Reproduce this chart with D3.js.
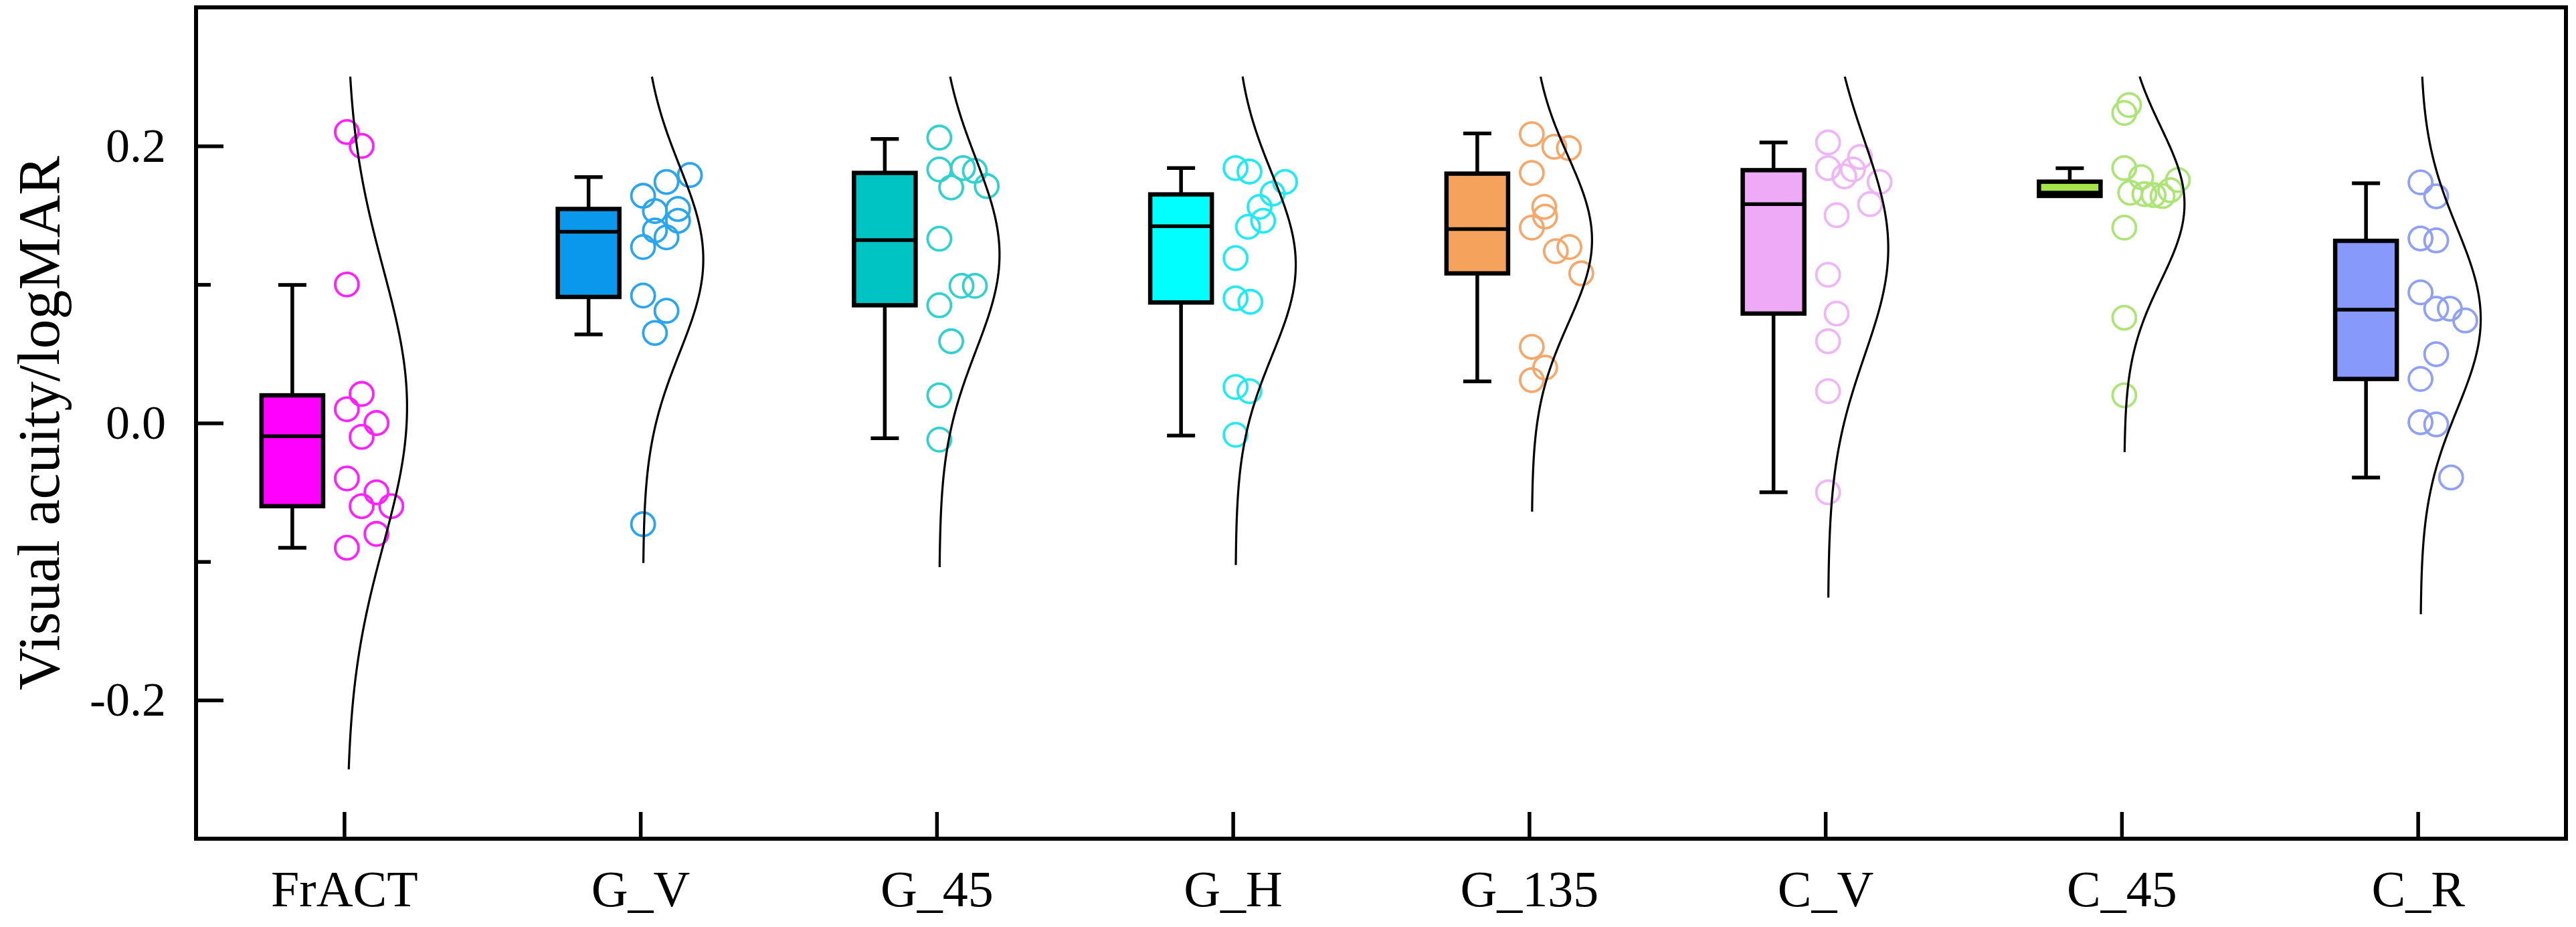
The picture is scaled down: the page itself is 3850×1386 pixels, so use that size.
<!DOCTYPE html>
<html>
<head>
<meta charset="utf-8">
<script src="https://cdn.jsdelivr.net/npm/d3@7"></script>
<style>
    body { margin: 0; background: #ffffff; }
    svg { display: block; }
</style>
</head>
<body>
<div id="chart"></div>
<script>
const width = 3850;
const height = 1386;

// categories on the x axis
const categories = ["FrACT", "G_V", "G_45", "G_H", "G_135", "C_V", "C_45", "C_R"];

// individual points (logMAR) and their horizontal jitter (in category units)
const fractValues = [0.21, 0.20, 0.10, 0.021, 0.01, 0.0, -0.01, -0.04, -0.05, -0.06, -0.06, -0.08, -0.09];
const fractJitter = [0, 0.05, 0, 0.05, 0, 0.10, 0.05, 0, 0.10, 0.05, 0.15, 0.10, 0];

const gvValues = [0.179, 0.174, 0.164, 0.1545, 0.153, 0.146, 0.139, 0.134, 0.127, 0.092, 0.081, 0.065, -0.073];
const gvJitter = [0.158, 0.079, 0, 0.118, 0.04, 0.118, 0.04, 0.079, 0, 0, 0.079, 0.04, 0];

const g45Values = [0.206, 0.183, 0.184, 0.170, 0.182, 0.171, 0.133, 0.099, 0.099, 0.085, 0.059, 0.020, -0.012];
const g45Jitter = [0, 0, 0.08, 0.04, 0.12, 0.16, 0, 0.075, 0.12, 0, 0.04, 0, 0];

const ghValues = [0.184, 0.1815, 0.174, 0.1656, 0.156, 0.146, 0.1416, 0.119, 0.090, 0.0875, 0.026, 0.023, -0.0085];
const ghJitter = [0, 0.047, 0.167, 0.125, 0.081, 0.093, 0.042, 0, 0, 0.05, 0, 0.047, 0];

const g135Values = [0.2085, 0.1994, 0.1984, 0.1805, 0.156, 0.149, 0.141, 0.124, 0.127, 0.108, 0.055, 0.040, 0.031];
const g135Jitter = [0, 0.076, 0.125, 0, 0.042, 0.045, 0, 0.081, 0.127, 0.167, 0, 0.045, 0];

const cvValues = [0.2025, 0.184, 0.192, 0.183, 0.178, 0.174, 0.158, 0.150, 0.107, 0.079, 0.059, 0.023, -0.050];
const cvJitter = [0, 0, 0.108, 0.084, 0.055, 0.174, 0.142, 0.029, 0, 0.029, 0, 0, 0];

const c45Values = [0.2295, 0.2238, 0.184, 0.1775, 0.1754, 0.1662, 0.1652, 0.1645, 0.1638, 0.168, 0.141, 0.076, 0.020];
const c45Jitter = [0.016, 0, 0, 0.057, 0.181, 0.02, 0.068, 0.099, 0.129, 0.155, 0, 0, 0];

const crValues = [0.1737, 0.1636, 0.1332, 0.1318, 0.0943, 0.0825, 0.0825, 0.074, 0.0497, 0.0318, 0.0006, -0.001, -0.0393];
const crJitter = [0, 0.053, 0, 0.053, 0, 0.053, 0.099, 0.151, 0.053, 0, 0, 0.053, 0.103];

const pointValues = [fractValues, gvValues, g45Values, ghValues, g135Values, cvValues, c45Values, crValues];
const pointJitter = [fractJitter, gvJitter, g45Jitter, ghJitter, g135Jitter, cvJitter, c45Jitter, crJitter];

// box statistics per category
const whiskerLow = [-0.09, 0.064, -0.011, -0.009, 0.030, -0.050, 0.1639, -0.0393];
const q1 = [-0.060, 0.091, 0.085, 0.087, 0.108, 0.079, 0.1639, 0.0318];
const median = [-0.0095, 0.138, 0.132, 0.142, 0.140, 0.158, 0.1663, 0.0818];
const q3 = [0.020, 0.1545, 0.1805, 0.165, 0.180, 0.1825, 0.1742, 0.1315];
const whiskerHigh = [0.0997, 0.1775, 0.205, 0.184, 0.209, 0.2025, 0.1839, 0.1731];

// extent of the normal curve per category
const curveLow = [-0.25, -0.101, -0.104, -0.1025, -0.064, -0.126, -0.021, -0.138];
const curveHigh = [0.25, 0.25, 0.25, 0.25, 0.25, 0.25, 0.25, 0.25];

// y axis ticks
const yTicks = [-0.2, 0.0, 0.2];
const yMinorTicks = [-0.1, 0.1];

// colours
const boxColors = ["#ff00ff", "#0a98ec", "#00c4c4", "#00ffff", "#f5a25d", "#eeaaf7", "#a6e34a", "#8799fa"];
const pointColors = ["#ff22ff", "#2aa5ee", "#33d0d0", "#22eaf2", "#f4a86c", "#eeb6f6", "#ade476", "#8fa0f5"];

const fontFamily = "'Liberation Serif', 'Times New Roman', serif";

const frame = { left: 293, right: 3835, top: 11, bottom: 1254 };

const svg = d3
    .select("#chart")
    .append("svg")
    .attr("width", width)
    .attr("height", height)
    .attr("viewBox", `0 0 ${width} ${height}`);

svg.append("rect")
    .attr("width", width)
    .attr("height", height)
    .attr("fill", "#ffffff");

const x = d3
    .scalePoint()
    .domain(categories)
    .range([frame.left, frame.right])
    .padding(0.5);

const y = d3
    .scaleLinear()
    .domain([-0.3, 0.3])
    .range([frame.bottom, frame.top]);

const step = x.step();
const boxOffset = -0.175 * step;
const boxWidth = 0.208 * step;
const capWidth = 42;
const pointOffset = 4;
const curveAmplitude = 90;

const groups = categories.map(function (name, i) {
    return {
        name: name,
        index: i,
        values: pointValues[i],
        jitter: pointJitter[i],
        lo: whiskerLow[i],
        q1: q1[i],
        median: median[i],
        q3: q3[i],
        hi: whiskerHigh[i]
    };
});

// boxes and whiskers
const boxG = svg.append("g").attr("class", "boxes");

groups.forEach(function (g) {
    const cx = x(g.name) + boxOffset;
    const gEl = boxG.append("g");

    gEl.append("line")
        .attr("x1", cx).attr("x2", cx)
        .attr("y1", y(g.q3)).attr("y2", y(g.hi))
        .attr("stroke", "#000").attr("stroke-width", 5.5);
    gEl.append("line")
        .attr("x1", cx).attr("x2", cx)
        .attr("y1", y(g.q1)).attr("y2", y(g.lo))
        .attr("stroke", "#000").attr("stroke-width", 5.5);

    [g.lo, g.hi].forEach(function (v) {
        gEl.append("line")
            .attr("x1", cx - capWidth / 2).attr("x2", cx + capWidth / 2)
            .attr("y1", y(v)).attr("y2", y(v))
            .attr("stroke", "#000").attr("stroke-width", 5.5);
    });

    gEl.append("rect")
        .attr("x", cx - boxWidth / 2)
        .attr("y", y(g.q3))
        .attr("width", boxWidth)
        .attr("height", y(g.q1) - y(g.q3))
        .attr("fill", boxColors[g.index])
        .attr("stroke", "#000")
        .attr("stroke-width", 6.5);

    gEl.append("line")
        .attr("x1", cx - boxWidth / 2).attr("x2", cx + boxWidth / 2)
        .attr("y1", y(g.median)).attr("y2", y(g.median))
        .attr("stroke", "#000").attr("stroke-width", 5.5);
});

// individual points
const pointG = svg.append("g").attr("class", "points");

groups.forEach(function (g) {
    pointG.selectAll(null)
        .data(g.values)
        .enter()
        .append("circle")
        .attr("cx", function (d, j) {
            return x(g.name) + pointOffset + g.jitter[j] * step;
        })
        .attr("cy", function (d) { return y(d); })
        .attr("r", 17.5)
        .attr("fill", "none")
        .attr("stroke", pointColors[g.index])
        .attr("stroke-width", 3.8);
});

// normal curves from each group's mean and standard deviation
const curveG = svg.append("g").attr("class", "curves");

groups.forEach(function (g) {
    const mean = d3.mean(g.values);
    const sd = d3.deviation(g.values);
    const base = x(g.name) + pointOffset;
    const lo = curveLow[g.index];
    const hi = curveHigh[g.index];
    const n = 120;

    const samples = d3.range(n + 1).map(function (k) {
        return lo + (hi - lo) * k / n;
    });

    const line = d3.line()
        .x(function (v) {
            const z = (v - mean) / sd;
            return base + curveAmplitude * Math.exp(-0.5 * z * z);
        })
        .y(function (v) { return y(v); });

    curveG.append("path")
        .attr("d", line(samples))
        .attr("fill", "none")
        .attr("stroke", "#000")
        .attr("stroke-width", 3.2);
});

// y axis
const yAxis = svg.append("g")
    .attr("transform", `translate(${frame.left},0)`)
    .call(
        d3.axisLeft(y)
            .tickValues(yTicks)
            .tickSize(-41)
            .tickPadding(45)
            .tickFormat(function (d) { return d.toFixed(1); })
    );

svg.append("g")
    .attr("transform", `translate(${frame.left},0)`)
    .call(
        d3.axisLeft(y)
            .tickValues(yMinorTicks)
            .tickSize(-22)
            .tickFormat("")
    );

// x axis
const xAxis = svg.append("g")
    .attr("transform", `translate(0,${frame.bottom})`)
    .call(
        d3.axisBottom(x)
            .tickSize(-40)
            .tickPadding(47)
    );

svg.selectAll(".domain").remove();
svg.selectAll(".tick line")
    .attr("stroke", "#000")
    .attr("stroke-width", 5.5);

yAxis.selectAll("text")
    .attr("font-family", fontFamily)
    .attr("font-size", 72)
    .attr("fill", "#000");

xAxis.selectAll("text")
    .attr("font-family", fontFamily)
    .attr("font-size", 76)
    .attr("fill", "#000");

// frame
svg.append("rect")
    .attr("x", frame.left)
    .attr("y", frame.top)
    .attr("width", frame.right - frame.left)
    .attr("height", frame.bottom - frame.top)
    .attr("fill", "none")
    .attr("stroke", "#000")
    .attr("stroke-width", 6);

// axis title
svg.append("text")
    .attr("transform", `translate(88,${(frame.top + frame.bottom) / 2}) rotate(-90)`)
    .attr("text-anchor", "middle")
    .attr("font-family", fontFamily)
    .attr("font-size", 88)
    .attr("fill", "#000")
    .text("Visual acuity/logMAR");
</script>
</body>
</html>
